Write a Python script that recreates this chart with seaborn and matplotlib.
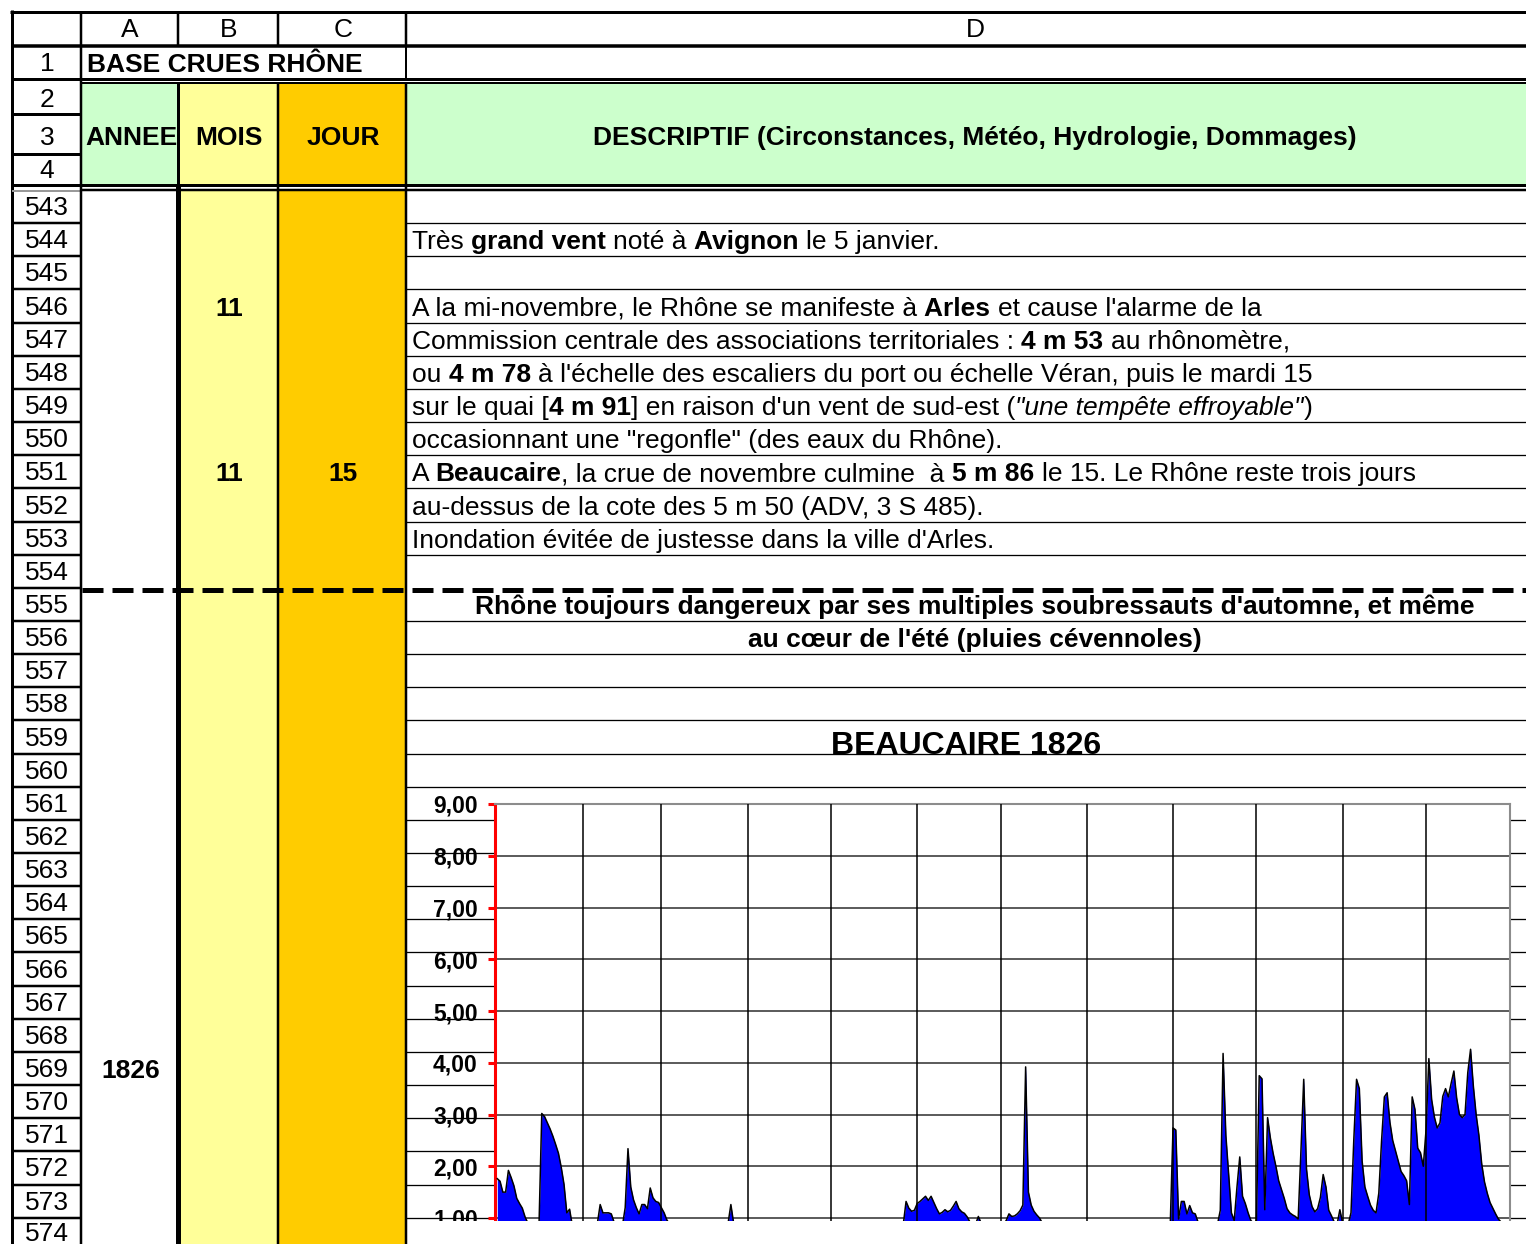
import matplotlib
matplotlib.use("Agg")
import numpy as np
import pandas as pd
import seaborn as sns
import matplotlib.pyplot as plt
from matplotlib import font_manager
from matplotlib.patches import Rectangle

# --- sheet content ---
col_letters = ["A", "B", "C", "D"]
head_rows = ["1", "2", "3", "4"]
head_cells = ["ANNEE", "MOIS", "JOUR",
              "DESCRIPTIF (Circonstances, Météo, Hydrologie, Dommages)"]
sheet_title = "BASE CRUES RHÔNE"
row_numbers = list(range(543, 575))

# description lines: (row, [(text, style)])  n=normal b=bold i=italic
desc_lines = [
    (544, [("Très ", "n"), ("grand vent ", "b"), ("noté à ", "n"), ("Avignon ", "b"),
           ("le 5 janvier.", "n")]),
    (546, [("A la mi-novembre, le Rhône se manifeste à ", "n"), ("Arles ", "b"),
           ("et cause l'alarme de la", "n")]),
    (547, [("Commission centrale des associations territoriales : ", "n"), ("4 m 53 ", "b"),
           ("au rhônomètre,", "n")]),
    (548, [("ou ", "n"), ("4 m 78 ", "b"),
           ("à l'échelle des escaliers du port ou échelle Véran, puis le mardi 15", "n")]),
    (549, [("sur le quai [", "n"), ("4 m 91", "b"), ("] en raison d'un vent de sud-est (", "n"),
           ('"une tempête effroyable"', "i"), (")", "n")]),
    (550, [('occasionnant une "regonfle" (des eaux du Rhône).', "n")]),
    (551, [("A ", "n"), ("Beaucaire", "b"), (", la crue de novembre culmine  à ", "n"),
           ("5 m 86 ", "b"), ("le 15. Le Rhône reste trois jours", "n")]),
    (552, [("au-dessus de la cote des 5 m 50 (ADV, 3 S 485).", "n")]),
    (553, [("Inondation évitée de justesse dans la ville d'Arles.", "n")]),
]
centered_lines = [
    (555, "Rhône toujours dangereux par ses multiples soubressauts d'automne, et même"),
    (556, "au cœur de l'été (pluies cévennoles)"),
]
cell_values = [(546, "B", "11"), (551, "B", "11"), (551, "C", "15"), (569, "A", "1826")]
chart_title = "BEAUCAIRE 1826"

# --- Beaucaire 1826, daily stage (m) ---
month_days = [31, 28, 31, 30, 31, 30, 31, 31, 30, 31, 30, 31]
jan = [1.76, 1.71, 1.50, 1.50, 1.92, 1.78, 1.62, 1.38, 1.28, 1.19,
       1.02, 0.90, 0.85, 0.82, 0.80, 0.85, 3.02, 2.96, 2.84, 2.72,
       2.58, 2.42, 2.25, 1.98, 1.65, 1.10, 1.17, 0.85, 0.80, 0.78, 0.78]
feb = [0.78, 0.78, 0.80, 0.80, 0.82, 0.90, 1.26, 1.10, 1.10, 1.10,
       1.08, 0.92, 0.88, 0.85, 0.85, 1.20, 2.34, 1.60, 1.35, 1.20,
       1.08, 1.26, 1.26, 1.18, 1.58, 1.39, 1.32, 1.30]
mar = [1.20, 1.10, 0.96, 0.88, 0.85, 0.84, 0.83, 0.82, 0.82, 0.81,
       0.80, 0.80, 0.80, 0.79, 0.79, 0.78, 0.78, 0.78, 0.78, 0.80,
       0.82, 0.84, 0.86, 0.88, 0.90, 1.26, 0.90, 0.86, 0.84, 0.82, 0.80]
apr = [0.80, 0.79, 0.78, 0.78, 0.77, 0.77, 0.76, 0.76, 0.75, 0.75,
       0.75, 0.74, 0.74, 0.74, 0.73, 0.73, 0.73, 0.72, 0.72, 0.72,
       0.72, 0.71, 0.71, 0.71, 0.70, 0.70, 0.70, 0.70, 0.70, 0.70]
may = [0.70, 0.70, 0.71, 0.71, 0.72, 0.72, 0.73, 0.73, 0.74, 0.74,
       0.75, 0.75, 0.76, 0.76, 0.77, 0.78, 0.78, 0.79, 0.80, 0.80,
       0.81, 0.82, 0.82, 0.83, 0.84, 0.85, 0.88, 1.32, 1.19, 1.13, 1.15]
jun = [1.28, 1.32, 1.37, 1.42, 1.34, 1.42, 1.30, 1.18, 1.08, 1.11,
       1.16, 1.12, 1.15, 1.23, 1.32, 1.18, 1.12, 1.09, 1.02, 0.92,
       0.88, 0.88, 1.03, 0.90, 0.86, 0.85, 0.85, 0.85, 0.84, 0.84]
jul = [0.85, 0.88, 0.95, 1.08, 1.03, 1.04, 1.08, 1.14, 1.25, 3.92,
       1.50, 1.25, 1.13, 1.06, 1.00, 0.90, 0.86, 0.85, 0.84, 0.83,
       0.82, 0.82, 0.81, 0.80, 0.80, 0.79, 0.79, 0.78, 0.78, 0.78, 0.77]
aug = [0.77, 0.77, 0.76, 0.76, 0.76, 0.75, 0.75, 0.75, 0.74, 0.74,
       0.74, 0.74, 0.73, 0.73, 0.73, 0.73, 0.72, 0.72, 0.72, 0.72,
       0.72, 0.72, 0.73, 0.74, 0.75, 0.76, 0.78, 0.80, 0.82, 0.84, 0.86]
sep = [2.74, 2.70, 0.98, 1.32, 1.32, 1.08, 1.24, 1.10, 1.08, 0.92,
       0.86, 0.84, 0.83, 0.83, 0.84, 0.86, 0.88, 1.15, 4.18, 2.60,
       1.85, 1.10, 0.95, 1.60, 2.18, 1.42, 1.28, 1.10, 0.95, 0.90]
oct_ = [0.95, 3.75, 3.69, 1.16, 2.94, 2.55, 2.25, 2.00, 1.72, 1.55,
        1.38, 1.18, 1.10, 1.06, 1.03, 0.98, 2.30, 3.68, 1.95, 1.45,
        1.22, 1.12, 1.18, 1.40, 1.84, 1.60, 1.15, 1.04, 0.92, 0.88, 1.16]
nov = [0.90, 0.86, 0.88, 1.10, 2.50, 3.68, 3.50, 2.10, 1.60, 1.42,
       1.25, 1.15, 1.10, 1.48, 2.50, 3.34, 3.42, 2.85, 2.50, 2.30,
       2.10, 1.90, 1.82, 1.72, 1.26, 3.34, 3.10, 2.35, 2.26, 2.00]
dec = [2.71, 4.08, 3.29, 2.95, 2.74, 2.84, 3.35, 3.50, 3.34, 3.60,
       3.84, 3.32, 3.00, 2.94, 3.00, 3.81, 4.26, 3.55, 3.00, 2.60,
       2.05, 1.70, 1.48, 1.30, 1.19, 1.08, 0.98, 0.92, 0.88, 0.86, 0.85]
y_ticks = [1, 2, 3, 4, 5, 6, 7, 8, 9]

stage = jan + feb + mar + apr + may + jun + jul + aug + sep + oct_ + nov + dec
df = pd.DataFrame({"jour": np.arange(1, len(stage) + 1), "cote": stage})
month_starts = np.cumsum([1] + month_days[:-1])

# --- fonts ---
BODY = ["Liberation Sans", "DejaVu Sans"]
try:
    font_manager.findfont(font_manager.FontProperties(family="Liberation Sans Narrow", weight="bold"),
                          fallback_to_default=False)
    NARROW, narrow_ok = ["Liberation Sans Narrow", "Liberation Sans"], True
except ValueError:
    NARROW, narrow_ok = ["Liberation Sans", "DejaVu Sans"], False
FS = 19

W, H = 1526, 1244
fig = plt.figure(figsize=(W / 100, H / 100), dpi=100)
bg = fig.add_axes([0, 0, 1, 1])
bg.set_xlim(0, W)
bg.set_ylim(H, 0)
bg.axis("off")

GREEN, YELLOW, ORANGE = "#CCFFCC", "#FFFF99", "#FFCC00"
RH, A_R, B_R, C_R = 81, 179, 278, 406
ROW_H = 33.15


def row_top(r):
    return 190 + ROW_H * (r - 543)


def hline(y, x0, x1, w, color="black", **kw):
    bg.plot([x0, x1], [y, y], color=color, lw=w * 0.72, solid_capstyle="butt", **kw)


def vline(x, y0, y1, w, color="black"):
    bg.plot([x, x], [y0, y1], color=color, lw=w * 0.72, solid_capstyle="butt")


# fills
bg.add_patch(Rectangle((RH, 84), A_R - RH, 101, color=GREEN, lw=0))
bg.add_patch(Rectangle((A_R, 84), B_R - A_R, 101, color=YELLOW, lw=0))
bg.add_patch(Rectangle((B_R, 84), C_R - B_R, 101, color=ORANGE, lw=0))
bg.add_patch(Rectangle((C_R, 84), W - C_R, 101, color=GREEN, lw=0))
bg.add_patch(Rectangle((A_R, 190), B_R - A_R, H - 190, color=YELLOW, lw=0))
bg.add_patch(Rectangle((B_R, 190), C_R - B_R, H - 190, color=ORANGE, lw=0))

# column D row lines
for r in range(544, 575):
    if r == 555:
        continue
    hline(row_top(r), C_R, W, 1.3)

# frame and header lines
hline(12, 10, W, 3)
vline(12, 10, H, 3)
hline(45.5, 12, W, 3.5)
hline(78.5, 12, W, 3)
hline(83, RH, W, 2)
hline(184.5, 12, W, 3)
hline(190, RH, W, 2.5)
hline(190.5, 12, RH, 2, color="#999999")
for y in [113.5, 153.5]:
    hline(y, 12, RH, 3)
for r in range(544, 575):
    hline(row_top(r), 12, RH, 2.5)
vline(RH, 12, H, 2.5)
for x in [A_R - 1, B_R, C_R]:
    vline(x, 12, 45, 2.5)
vline(C_R, 45, 79, 2)
vline(A_R - 1, 83, 185, 3)
vline(B_R, 83, 185, 2.5)
vline(C_R, 83, 185, 2.5)
vline(A_R - 1, 186, H, 5)
vline(B_R, 186, H, 2.5)
vline(C_R, 186, H, 2.5)
# dashed separator (dash lengths are in units of the line width)
bg.plot([RH + 1, W], [589.5, 589.5], color="black", lw=5 * 0.72,
        linestyle=(0, (4.2, 1.8)), solid_capstyle="butt")

# header texts
for s, cx in zip(col_letters, [130, 229, 343, 975]):
    bg.text(cx, 37, s, ha="center", va="baseline", fontsize=FS, family=BODY)
for s, yb in zip(head_rows, [71, 107, 145, 178]):
    bg.text(47, yb, s, ha="center", va="baseline", fontsize=FS, family=BODY)
bg.text(87, 72, sheet_title, ha="left", va="baseline", fontsize=FS, fontweight="bold", family=BODY)
for s, cx in zip(head_cells, [131, 229, 343, 975]):
    bg.text(cx, 145, s, ha="center", va="baseline", fontsize=FS, fontweight="bold", family=BODY)
for r in row_numbers:
    bg.text(47, min(row_top(r + 1) - 8, 1241), str(r), ha="center", va="baseline",
            fontsize=FS, family=BODY)

col_center = {"A": 131, "B": 229, "C": 343}
for r, c, s in cell_values:
    bg.text(col_center[c], row_top(r + 1) - 7, s, ha="center", va="baseline",
            fontsize=FS, fontweight="bold", family=BODY)

# mixed-style description lines
renderer = fig.canvas.get_renderer()
STY = {"n": ("normal", "normal"), "b": ("bold", "normal"), "i": ("normal", "italic")}


def advance(s, weight, style):
    kw = dict(fontsize=FS, fontweight=weight, fontstyle=style, family=BODY)
    t1 = bg.text(0, 0, "|" + s + "|", **kw)
    t2 = bg.text(0, 0, "||", **kw)
    w = t1.get_window_extent(renderer).width - t2.get_window_extent(renderer).width
    t1.remove()
    t2.remove()
    return w


for r, runs in desc_lines:
    x = 412
    yb = row_top(r + 1) - 7
    for s, st in runs:
        wgt, sty = STY[st]
        bg.text(x, yb, s, ha="left", va="baseline", fontsize=FS, fontweight=wgt,
                fontstyle=sty, family=BODY)
        x += advance(s, wgt, sty)

for r, s in centered_lines:
    bg.text(975, row_top(r + 1) - 7, s, ha="center", va="baseline", fontsize=FS,
            fontweight="bold", family=BODY)

bg.text(966, 754, chart_title, ha="center", va="baseline", fontsize=27 if narrow_ok else 23,
        fontweight="bold", family=NARROW)

# --- the chart ---
L, R, T, B = 494.5, 1509.5, 804, 1221
ax = fig.add_axes([L / W, (H - B) / H, (R - L) / W, (B - T) / H])
ax.set_facecolor("white")
ax.fill_between(df["jour"], 0, df["cote"], color="#0000FF", lw=0, zorder=2)
sns.lineplot(data=df, x="jour", y="cote", ax=ax, color="black", linewidth=1.1, zorder=3)
for s in month_starts[1:]:
    ax.axvline(s, color="black", lw=1.1, zorder=4)
ax.set_xlim(0, 365)
ax.set_ylim(9 - (B - T) / 51.75, 9)
ax.set_xticks([])
ax.set_yticks(y_ticks, labels=[f"{v:.2f}".replace(".", ",") for v in y_ticks],
              fontsize=19.5 if narrow_ok else 16.5, fontweight="bold", family=NARROW)
ax.yaxis.grid(True, color="#5a5a5a", lw=1.4)
ax.set_axisbelow(True)
ax.tick_params(axis="y", direction="out", length=5, width=2.2, color="red",
               labelcolor="black", pad=7)
ax.set_xlabel("")
ax.set_ylabel("")
ax.spines["left"].set_color("red")
ax.spines["left"].set_linewidth(2.2)
for side in ["top", "right"]:
    ax.spines[side].set_color("#8c8c8c")
    ax.spines[side].set_linewidth(1.5)
ax.spines["bottom"].set_visible(False)

# chart object ends here: blank below it in column D
cov = fig.add_axes([0, 0, 1, 1])
cov.set_xlim(0, W)
cov.set_ylim(H, 0)
cov.axis("off")
cov.add_patch(Rectangle((C_R + 2, B), W - C_R - 2, H - B, color="white", lw=0))

fig.savefig("out.png", dpi=100)
